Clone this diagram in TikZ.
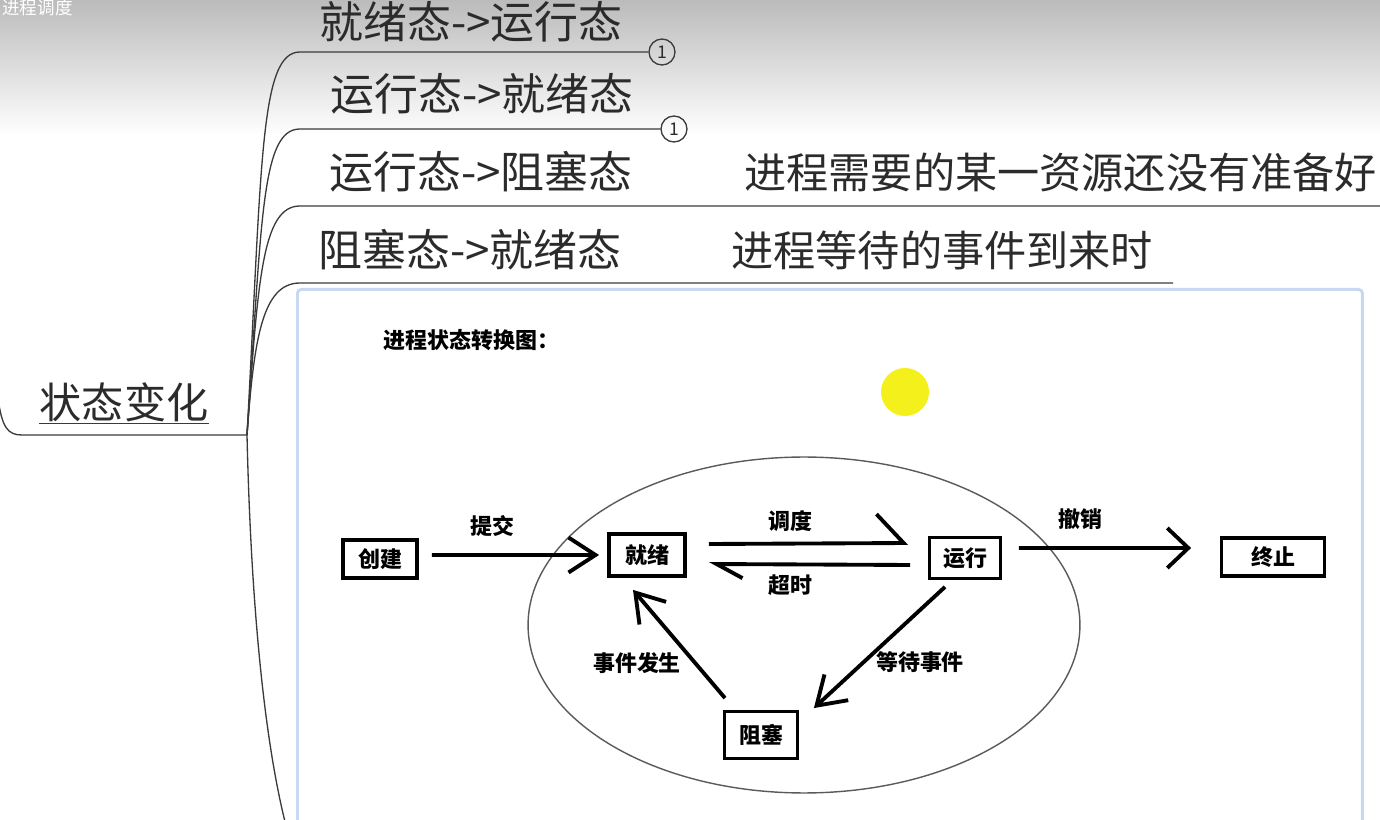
\documentclass[tikz,border=0pt]{standalone}
\usepackage{fontspec}
\setmainfont{Noto Sans CJK SC}
\usetikzlibrary{arrows.meta,positioning}
\definecolor{Ink}{HTML}{2B2B2B}
\definecolor{Wire}{HTML}{3A3A3A}
\definecolor{Orbit}{HTML}{5A5A5A}
\definecolor{FrameBlue}{HTML}{C8D8F0}
\definecolor{Haze}{HTML}{BBBBBB}
\definecolor{Pointer}{HTML}{F4F01C}
\tikzset{
  topic/.style={font=\fontsize{25}{28}\selectfont, text=Ink, inner sep=0pt, anchor=west},
  note/.style={font=\fontsize{24}{28}\selectfont, text=Ink, inner sep=0pt, anchor=west},
  branch/.style={draw=Wire, line width=0.75pt},
  badge/.style={circle, draw=Wire, line width=0.75pt, minimum size=0.52cm,
    inner sep=0pt, font=\fontsize{10}{10}\selectfont, text=Ink},
  state/.style={draw=black, line width=2.2pt, inner sep=0pt,
    font=\fontsize{12.5}{14}\selectfont\bfseries},
  tag/.style={font=\fontsize{12.5}{14}\selectfont\bfseries, inner sep=0pt},
  flow/.style={-{Straight Barb[length=0.54cm,width=0.7cm]}, line width=2.2pt},
  longflow/.style={-{Straight Barb[length=0.42cm,width=0.8cm]}, line width=2.2pt},
  upflow/.style={-{Straight Barb[harpoon,length=0.54cm,width=1.16cm]}, line width=2.2pt},
  downflow/.style={-{Straight Barb[harpoon,length=0.52cm,width=0.56cm]}, line width=2.2pt}
}

\begin{document}
\begin{tikzpicture}[x=0.02cm,y=-0.02cm]
  \useasboundingbox (0,0) rectangle (1380,820);
  % screen haze on top
  \shade[top color=Haze, bottom color=white] (0,0) rectangle (1380,135);
  \node[anchor=west, text=white, inner sep=0pt, font=\fontsize{10}{10}\selectfont] (caption) at (2,8) {进程调度};

  % mind map
  \node[note, anchor=center] (root) at (124,402) {状态变化};
  \draw[branch] ([yshift=-1pt]root.south west) -- ([yshift=-1pt]root.south east);
  \coordinate (hub) at (247,435);
  \coordinate (rootl) at (-2,398);
  \draw[branch] (rootl) .. controls (2,428) and (8,435) .. (22,435) -- (hub);

  \node[topic] (c1) at (319,22) {就绪态->运行态};
  \node[topic] (c2) at (330,94) {运行态->就绪态};
  \node[topic] (c3) at (329,172) {运行态->阻塞态};
  \node[topic] (c4) at (318,250) {阻塞态->就绪态};
  \node[note] (n3) at (744,172) {进程需要的某一资源还没有准备好};
  \node[note] (n4) at (731,250) {进程等待的事件到来时};
  \node[badge] (m1) at (662,52) {1};
  \node[badge] (m2) at (674,129) {1};
  \coordinate (c3end) at (1390,206);
  \coordinate (c4end) at (1173,283);
  \coordinate (imgend) at (300,870);

  \draw[branch] (hub) .. controls (262,160) and (260,52) .. (300,52) -- (m1.west);
  \draw[branch] (hub) .. controls (262,220) and (261,129) .. (300,129) -- (m2.west);
  \draw[branch] (hub) .. controls (258,280) and (262,206) .. (300,206) -- (c3end);
  \draw[branch] (hub) .. controls (254,340) and (262,283) .. (300,283) -- (c4end);
  \draw[branch] (hub) .. controls (252,650) and (272,800) .. (imgend);

  % embedded picture
  \node[draw=FrameBlue, line width=1.7pt, rounded corners=2pt, anchor=north west,
    minimum width=21.3cm, minimum height=11.4cm] (img) at (296,288) {};
  \node[tag, anchor=west] (title) at (383,340) {进程状态转换图：};
  \fill[Pointer] (905,392) circle [radius=0.48cm];
  \draw[Orbit, line width=0.8pt] (804,625) ellipse [x radius=5.52cm, y radius=3.36cm];

  \node[state, minimum width=1.48cm, minimum height=0.76cm] (create) at (380,559) {创建};
  \node[state, minimum width=1.52cm, minimum height=0.84cm] (ready) at (647,555) {就绪};
  \node[state, minimum width=1.42cm, minimum height=0.82cm] (run) at (965,558) {运行};
  \node[state, minimum width=2.06cm, minimum height=0.76cm] (term) at (1273,557) {终止};
  \node[state, minimum width=1.46cm, minimum height=0.94cm] (block) at (761,735) {阻塞};

  \draw[flow] ([xshift=0.26cm,yshift=0.08cm]create.east) -- ([xshift=-0.16cm]ready.west);
  \draw[upflow] ([xshift=0.44cm,yshift=0.22cm]ready.east) -- ([xshift=-0.39cm,yshift=0.3cm]run.west);
  \draw[downflow] ([xshift=-0.35cm,yshift=-0.14cm]run.west) -- ([xshift=0.44cm,yshift=-0.18cm]ready.east);
  \draw[longflow] ([xshift=0.33cm,yshift=0.2cm]run.east) -- ([xshift=-0.57cm,yshift=0.18cm]term.west);
  \draw[flow] ([xshift=-0.4cm,yshift=-0.13cm]run.south) -- ([xshift=0.29cm,yshift=0.03cm]block.north east);
  \draw[flow] ([xshift=-0.72cm,yshift=0.23cm]block.north) -- ([xshift=-0.28cm,yshift=-0.24cm]ready.south);

  \node[tag] (l1) at (492,526) {提交};
  \node[tag] (l2) at (790,521) {调度};
  \node[tag] (l3) at (790,585) {超时};
  \node[tag] (l4) at (1080,519) {撤销};
  \node[tag] (l5) at (637,663) {事件发生};
  \node[tag] (l6) at (920,662) {等待事件};
\end{tikzpicture}
\end{document}
